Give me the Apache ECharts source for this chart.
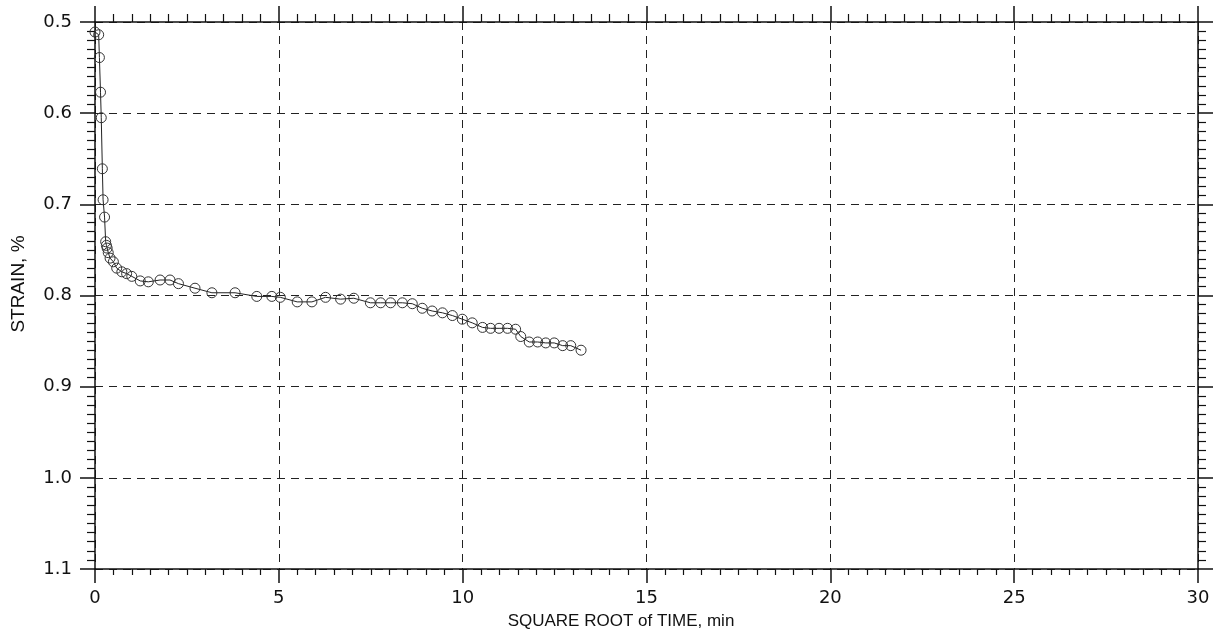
<!DOCTYPE html>
<html>
<head>
<meta charset="utf-8">
<script src="https://cdn.jsdelivr.net/npm/echarts@6/dist/echarts.min.js"></script>
<style>
html,body{margin:0;padding:0;background:#fff;}
#c{width:1224px;height:644px;}
</style>
</head>
<body>
<div id="c"></div>
<script>
// Square root of time (min)
var sqrtTime = [0.0, 0.10, 0.12, 0.15, 0.17, 0.20, 0.22, 0.26, 0.29, 0.31, 0.33, 0.36, 0.41, 0.50, 0.59, 0.73, 0.86, 1.00, 1.23, 1.45, 1.77, 2.04, 2.27, 2.72, 3.18, 3.81, 4.40, 4.81, 5.04, 5.50, 5.90, 6.27, 6.68, 7.04, 7.49, 7.77, 8.04, 8.36, 8.63, 8.90, 9.17, 9.45, 9.72, 9.99, 10.26, 10.54, 10.76, 10.99, 11.22, 11.44, 11.58, 11.81, 12.04, 12.26, 12.49, 12.72, 12.94, 13.22];
// Strain (%)
var strain = [0.511, 0.514, 0.539, 0.577, 0.605, 0.661, 0.695, 0.714, 0.741, 0.745, 0.748, 0.753, 0.759, 0.763, 0.770, 0.774, 0.776, 0.779, 0.784, 0.785, 0.783, 0.783, 0.787, 0.792, 0.797, 0.797, 0.801, 0.801, 0.802, 0.807, 0.807, 0.802, 0.804, 0.803, 0.808, 0.808, 0.808, 0.808, 0.809, 0.814, 0.817, 0.819, 0.822, 0.826, 0.830, 0.835, 0.836, 0.836, 0.836, 0.837, 0.845, 0.851, 0.851, 0.852, 0.852, 0.855, 0.855, 0.860];
var xTickLabels = ['0', '5', '10', '15', '20', '25', '30'];
var yTickLabels = ['0.5', '0.6', '0.7', '0.8', '0.9', '1.0', '1.1'];
var xTitle = 'SQUARE ROOT of TIME, min';
var yTitle = 'STRAIN, %';

var points = sqrtTime.map(function (x, i) { return [x, strain[i]]; });
var FONT = '"Liberation Sans", Arial, sans-serif';
var TICKFONT = '"DejaVu Sans", "Liberation Sans", sans-serif';
var INK = '#111';

function xAxisCfg(pos, showLabels) {
  return {
    type: 'value', position: pos, min: 0, max: 30, interval: 5,
    axisLine: { show: true, onZero: false, lineStyle: { color: INK, width: 1.5 } },
    axisTick: { show: true, inside: false, length: pos === 'top' ? 16 : 14, lineStyle: { color: INK, width: 1.5 } },
    minorTick: { show: true, splitNumber: 10, length: pos === 'top' ? 8 : 6, lineStyle: { color: INK, width: 1.2 } },
    splitLine: { show: showLabels, lineStyle: { color: '#222', width: 1, type: [8, 6] } },
    minorSplitLine: { show: false },
    axisLabel: {
      show: showLabels, margin: 20, color: INK, fontSize: 18, fontFamily: TICKFONT,
      formatter: function (v) { return xTickLabels[Math.round(v / 5)]; }
    }
  };
}
function yAxisCfg(pos, showLabels) {
  return {
    type: 'value', position: pos, inverse: true, min: 0.5, max: 1.1, interval: 0.1,
    axisLine: { show: true, onZero: false, lineStyle: { color: INK, width: 1.5 } },
    axisTick: { show: true, inside: false, length: 15, lineStyle: { color: INK, width: 1.5 } },
    minorTick: { show: true, splitNumber: 10, length: 8, lineStyle: { color: INK, width: 1.2 } },
    splitLine: { show: showLabels, lineStyle: { color: '#222', width: 1, type: [8, 6] } },
    minorSplitLine: { show: false },
    axisLabel: {
      show: showLabels, margin: 23, color: INK, fontSize: 18, fontFamily: TICKFONT,
      formatter: function (v) { return yTickLabels[Math.round((v - 0.5) / 0.1)]; }
    }
  };
}

var chart = echarts.init(document.getElementById('c'), null, { renderer: 'canvas' });
chart.setOption({
  backgroundColor: '#fff',
  animation: false,
  grid: { left: 95, right: 26, top: 22, bottom: 75, containLabel: false },
  xAxis: [xAxisCfg('bottom', true), xAxisCfg('top', false)],
  yAxis: [yAxisCfg('left', true), yAxisCfg('right', false)],
  graphic: [
    { type: 'text', x: 621, y: 621, style: { text: xTitle, fill: INK, font: '17px ' + FONT, textAlign: 'center', textVerticalAlign: 'middle' } },
    { type: 'text', x: 19, y: 284, rotation: Math.PI / 2, style: { text: yTitle, fill: INK, font: '19px ' + FONT, textAlign: 'center', textVerticalAlign: 'middle' } }
  ],
  series: [{
    type: 'line',
    xAxisIndex: 0, yAxisIndex: 0,
    data: points,
    symbol: 'circle', symbolSize: 10,
    showAllSymbol: true,
    lineStyle: { color: '#222', width: 1 },
    itemStyle: { color: 'rgba(255,255,255,0)', borderColor: '#333', borderWidth: 1 }
  }]
});
</script>
</body>
</html>
